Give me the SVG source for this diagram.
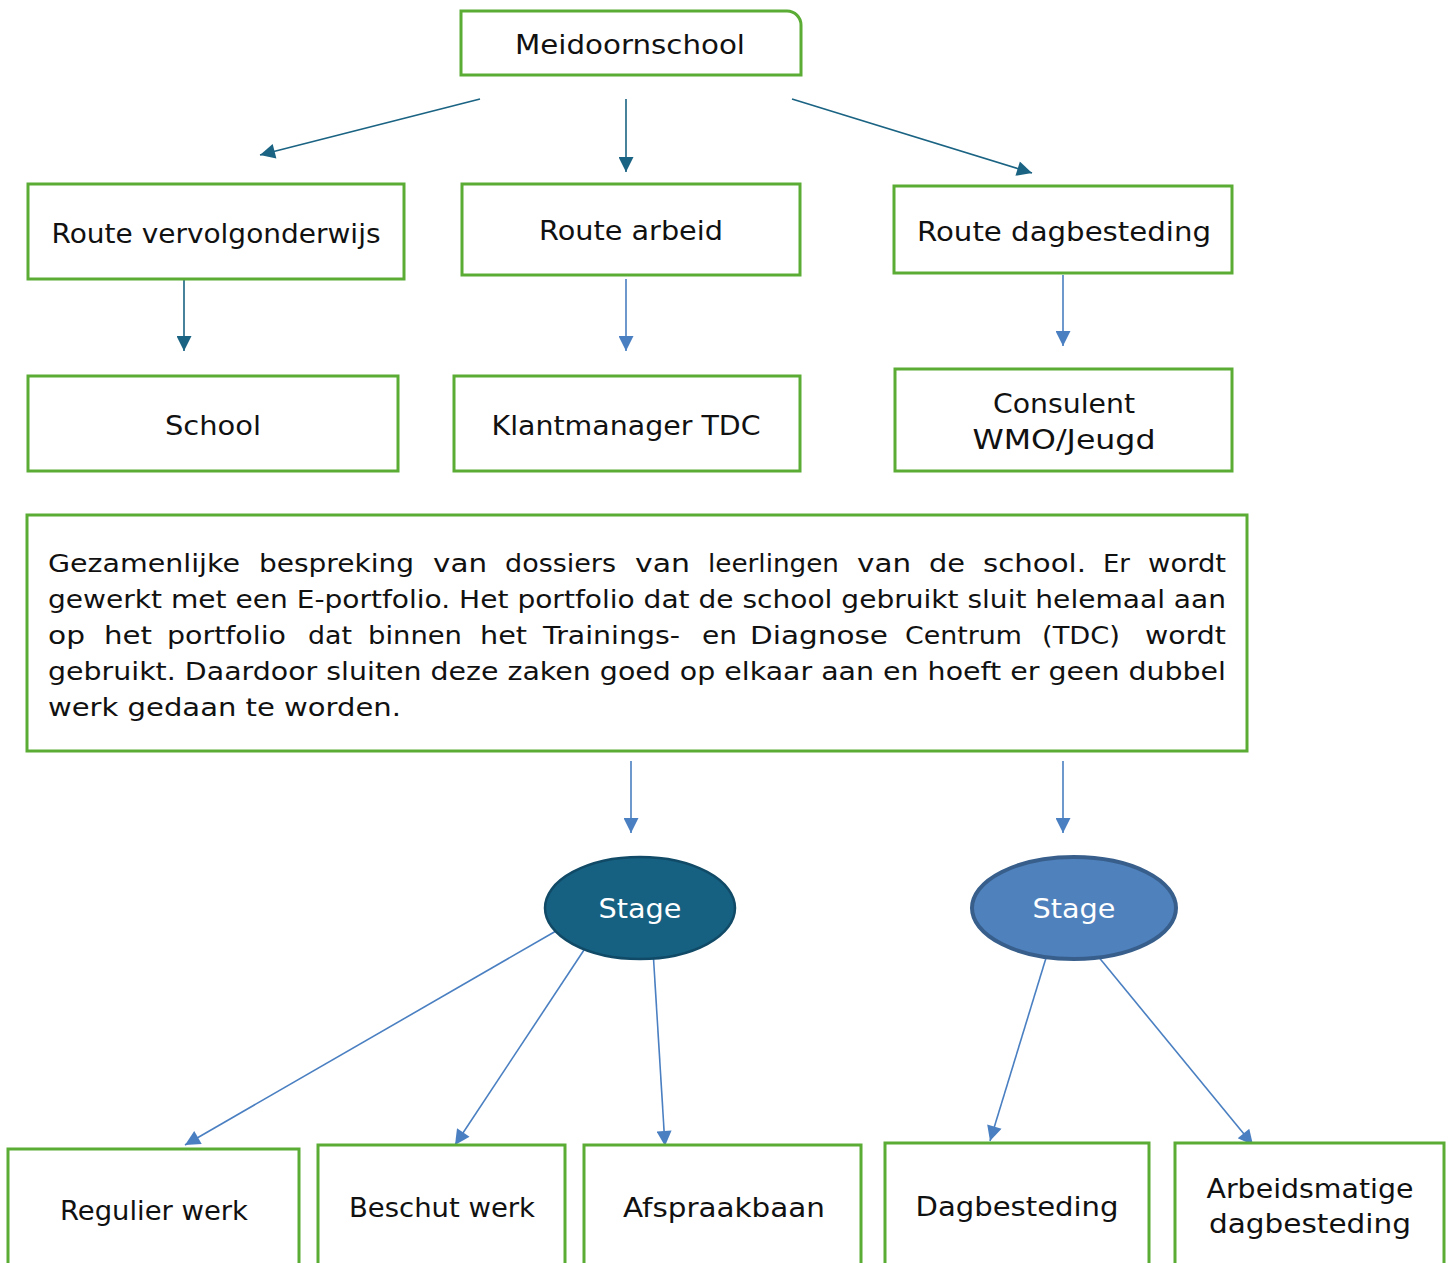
<svg xmlns="http://www.w3.org/2000/svg" width="1450" height="1263" viewBox="0 0 1450 1263">
<defs>
<style>
.box{fill:#fff;stroke:#5aac35;stroke-width:3}
.t{font-family:"DejaVu Sans","Liberation Sans",sans-serif;font-size:26px;fill:#111;text-anchor:middle}
.p{font-family:"DejaVu Sans","Liberation Sans",sans-serif;font-size:25px;fill:#111}
.st{font-family:"DejaVu Sans","Liberation Sans",sans-serif;font-size:27px;fill:#fff;text-anchor:middle}
.dk{stroke:#1a6383;stroke-width:1.6;fill:none}
.lt{stroke:#4a7fc1;stroke-width:1.6;fill:none}
</style>
<marker id="ad" viewBox="0 0 10 10" refX="10" refY="5" markerUnits="userSpaceOnUse" markerWidth="17" markerHeight="15" orient="auto"><path d="M0,0L10,5L0,10z" fill="#1a6383"/></marker>
<marker id="al" viewBox="0 0 10 10" refX="10" refY="5" markerUnits="userSpaceOnUse" markerWidth="17" markerHeight="15" orient="auto"><path d="M0,0L10,5L0,10z" fill="#4a7fc1"/></marker>
</defs>
<rect width="1450" height="1263" fill="#fff"/>
<g id="connectors">
<line class="dk" x1="480" y1="99" x2="260" y2="155" marker-end="url(#ad)"/>
<line class="dk" x1="626" y1="99" x2="626" y2="172" marker-end="url(#ad)"/>
<line class="dk" x1="792" y1="99" x2="1032" y2="173" marker-end="url(#ad)"/>
<line class="dk" x1="184" y1="279" x2="184" y2="351" marker-end="url(#ad)"/>
<line class="lt" x1="626" y1="279" x2="626" y2="351" marker-end="url(#al)"/>
<line class="lt" x1="1063" y1="275" x2="1063" y2="346" marker-end="url(#al)"/>
<line class="lt" x1="631" y1="761" x2="631" y2="833" marker-end="url(#al)"/>
<line class="lt" x1="1063" y1="761" x2="1063" y2="833" marker-end="url(#al)"/>
<line class="lt" x1="556" y1="931" x2="185" y2="1145" marker-end="url(#al)"/>
<line class="lt" x1="584" y1="950" x2="455" y2="1145" marker-end="url(#al)"/>
<line class="lt" x1="653" y1="950" x2="665" y2="1146" marker-end="url(#al)"/>
<line class="lt" x1="1046" y1="958" x2="990" y2="1141" marker-end="url(#al)"/>
<line class="lt" x1="1097" y1="955" x2="1253" y2="1145" marker-end="url(#al)"/>
</g>
<g id="meidoornschool">
<path class="box" d="M461,11H787A14,14 0 0 1 801,25V75H461Z"/>
<text class="t" x="630" y="54" textLength="230" lengthAdjust="spacingAndGlyphs">Meidoornschool</text>
</g>
<g id="route-vervolgonderwijs">
<rect class="box" x="28" y="184" width="376" height="95"/>
<text class="t" x="216" y="243" textLength="329" lengthAdjust="spacingAndGlyphs">Route vervolgonderwijs</text>
</g>
<g id="route-arbeid">
<rect class="box" x="462" y="184" width="338" height="91"/>
<text class="t" x="631" y="240" textLength="184" lengthAdjust="spacingAndGlyphs">Route arbeid</text>
</g>
<g id="route-dagbesteding">
<rect class="box" x="894" y="186" width="338" height="87"/>
<text class="t" x="1064" y="241" textLength="294" lengthAdjust="spacingAndGlyphs">Route dagbesteding</text>
</g>
<g id="school">
<rect class="box" x="28" y="376" width="370" height="95"/>
<text class="t" x="213" y="435" textLength="96" lengthAdjust="spacingAndGlyphs">School</text>
</g>
<g id="klantmanager">
<rect class="box" x="454" y="376" width="346" height="95"/>
<text class="t" x="626" y="435" textLength="269" lengthAdjust="spacingAndGlyphs">Klantmanager TDC</text>
</g>
<g id="consulent">
<rect class="box" x="895" y="369" width="337" height="102"/>
<text class="t" x="1064" y="413" textLength="142" lengthAdjust="spacingAndGlyphs">Consulent</text>
<text class="t" x="1064" y="449" textLength="183" lengthAdjust="spacingAndGlyphs">WMO/Jeugd</text>
</g>
<g id="bespreking">
<rect class="box" x="27" y="515" width="1220" height="236"/>
<text class="p" y="572"><tspan x="48" textLength="192" lengthAdjust="spacingAndGlyphs">Gezamenlijke</tspan> <tspan x="259" textLength="155" lengthAdjust="spacingAndGlyphs">bespreking</tspan> <tspan x="433" textLength="54" lengthAdjust="spacingAndGlyphs">van</tspan> <tspan x="505" textLength="111" lengthAdjust="spacingAndGlyphs">dossiers</tspan> <tspan x="635" textLength="55" lengthAdjust="spacingAndGlyphs">van</tspan> <tspan x="708" textLength="131" lengthAdjust="spacingAndGlyphs">leerlingen</tspan> <tspan x="857" textLength="54" lengthAdjust="spacingAndGlyphs">van</tspan> <tspan x="929" textLength="36" lengthAdjust="spacingAndGlyphs">de</tspan> <tspan x="983" textLength="103" lengthAdjust="spacingAndGlyphs">school.</tspan> <tspan x="1103" textLength="27" lengthAdjust="spacingAndGlyphs">Er</tspan> <tspan x="1148" textLength="78" lengthAdjust="spacingAndGlyphs">wordt</tspan></text>
<text class="p" x="48" y="608" textLength="1178" lengthAdjust="spacingAndGlyphs">gewerkt met een E-portfolio. Het portfolio dat de school gebruikt sluit helemaal aan</text>
<text class="p" y="644"><tspan x="48" textLength="37" lengthAdjust="spacingAndGlyphs">op</tspan> <tspan x="104" textLength="48" lengthAdjust="spacingAndGlyphs">het</tspan> <tspan x="167" textLength="119" lengthAdjust="spacingAndGlyphs">portfolio</tspan> <tspan x="308" textLength="44" lengthAdjust="spacingAndGlyphs">dat</tspan> <tspan x="368" textLength="94" lengthAdjust="spacingAndGlyphs">binnen</tspan> <tspan x="480" textLength="47" lengthAdjust="spacingAndGlyphs">het</tspan> <tspan x="543" textLength="137" lengthAdjust="spacingAndGlyphs">Trainings-</tspan> <tspan x="702" textLength="35" lengthAdjust="spacingAndGlyphs">en</tspan> <tspan x="750" textLength="138" lengthAdjust="spacingAndGlyphs">Diagnose</tspan> <tspan x="905" textLength="117" lengthAdjust="spacingAndGlyphs">Centrum</tspan> <tspan x="1042" textLength="78" lengthAdjust="spacingAndGlyphs">(TDC)</tspan> <tspan x="1145" textLength="81" lengthAdjust="spacingAndGlyphs">wordt</tspan></text>
<text class="p" x="48" y="680" textLength="1178" lengthAdjust="spacingAndGlyphs">gebruikt. Daardoor sluiten deze zaken goed op elkaar aan en hoeft er geen dubbel</text>
<text class="p" x="48" y="716" textLength="353" lengthAdjust="spacingAndGlyphs">werk gedaan te worden.</text>
</g>
<g id="stage-1">
<ellipse cx="640" cy="908" rx="95" ry="51" fill="#166082" stroke="#104a66" stroke-width="2.5"/>
<text class="st" x="640" y="918" textLength="83" lengthAdjust="spacingAndGlyphs">Stage</text>
</g>
<g id="stage-2">
<ellipse cx="1074" cy="908" rx="102" ry="51" fill="#4f81bd" stroke="#385f8c" stroke-width="4"/>
<text class="st" x="1074" y="918" textLength="83" lengthAdjust="spacingAndGlyphs">Stage</text>
</g>
<g id="regulier-werk">
<rect class="box" x="8" y="1149" width="291" height="130"/>
<text class="t" x="154" y="1220" textLength="188" lengthAdjust="spacingAndGlyphs">Regulier werk</text>
</g>
<g id="beschut-werk">
<rect class="box" x="318" y="1145" width="247" height="130"/>
<text class="t" x="442" y="1217" textLength="186" lengthAdjust="spacingAndGlyphs">Beschut werk</text>
</g>
<g id="afspraakbaan">
<rect class="box" x="584" y="1145" width="277" height="130"/>
<text class="t" x="724" y="1217" textLength="202" lengthAdjust="spacingAndGlyphs">Afspraakbaan</text>
</g>
<g id="dagbesteding">
<rect class="box" x="885" y="1143" width="264" height="130"/>
<text class="t" x="1017" y="1216" textLength="203" lengthAdjust="spacingAndGlyphs">Dagbesteding</text>
</g>
<g id="arbeidsmatige">
<rect class="box" x="1175" y="1143" width="269" height="130"/>
<text class="t" x="1310" y="1198" textLength="207" lengthAdjust="spacingAndGlyphs">Arbeidsmatige</text>
<text class="t" x="1310" y="1233" textLength="202" lengthAdjust="spacingAndGlyphs">dagbesteding</text>
</g>
</svg>
